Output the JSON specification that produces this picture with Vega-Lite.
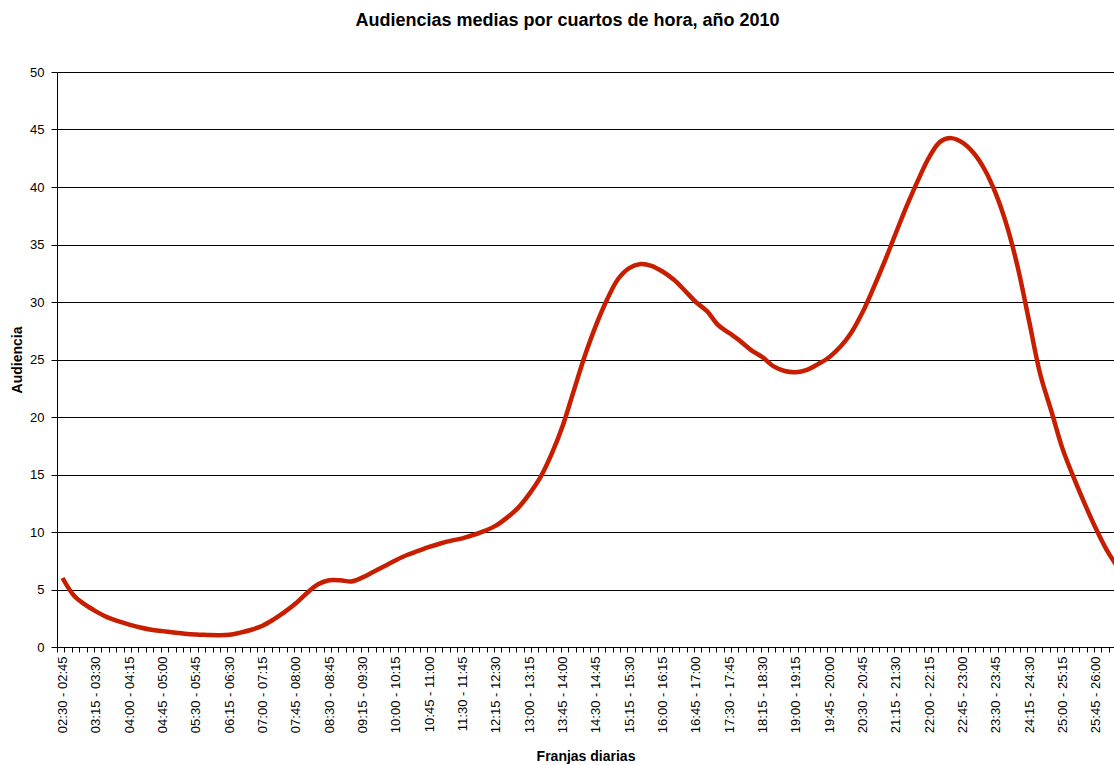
{
  "$schema": "https://vega.github.io/schema/vega-lite/v6.json",
  "width": 1057,
  "height": 575,
  "autosize": {"type": "none"},
  "padding": {"left": 57, "top": 72, "right": 0, "bottom": 118},
  "background": "white",
  "config": {"view": {"stroke": null}, "font": "Liberation Sans"},
  "title": {
    "text": "Audiencias medias por cuartos de hora, año 2010",
    "font": "Liberation Sans",
    "fontSize": 18,
    "fontWeight": "bold",
    "color": "#000000",
    "anchor": "middle",
    "dx": -18,
    "offset": 36
  },
  "data": {
    "values": [
      {"franja": "02:30 - 02:45", "t": 7.5, "audiencia": 6.0},
      {"franja": "02:45 - 03:00", "t": 22.5, "audiencia": 4.5},
      {"franja": "03:00 - 03:15", "t": 37.5, "audiencia": 3.7},
      {"franja": "03:15 - 03:30", "t": 52.5, "audiencia": 3.1},
      {"franja": "03:30 - 03:45", "t": 67.5, "audiencia": 2.6},
      {"franja": "03:45 - 04:00", "t": 82.5, "audiencia": 2.25},
      {"franja": "04:00 - 04:15", "t": 97.5, "audiencia": 1.95},
      {"franja": "04:15 - 04:30", "t": 112.5, "audiencia": 1.7},
      {"franja": "04:30 - 04:45", "t": 127.5, "audiencia": 1.5},
      {"franja": "04:45 - 05:00", "t": 142.5, "audiencia": 1.38},
      {"franja": "05:00 - 05:15", "t": 157.5, "audiencia": 1.26},
      {"franja": "05:15 - 05:30", "t": 172.5, "audiencia": 1.15},
      {"franja": "05:30 - 05:45", "t": 187.5, "audiencia": 1.08},
      {"franja": "05:45 - 06:00", "t": 202.5, "audiencia": 1.05},
      {"franja": "06:00 - 06:15", "t": 217.5, "audiencia": 1.03},
      {"franja": "06:15 - 06:30", "t": 232.5, "audiencia": 1.06},
      {"franja": "06:30 - 06:45", "t": 247.5, "audiencia": 1.25},
      {"franja": "06:45 - 07:00", "t": 262.5, "audiencia": 1.5},
      {"franja": "07:00 - 07:15", "t": 277.5, "audiencia": 1.85},
      {"franja": "07:15 - 07:30", "t": 292.5, "audiencia": 2.4},
      {"franja": "07:30 - 07:45", "t": 307.5, "audiencia": 3.05},
      {"franja": "07:45 - 08:00", "t": 322.5, "audiencia": 3.8},
      {"franja": "08:00 - 08:15", "t": 337.5, "audiencia": 4.7},
      {"franja": "08:15 - 08:30", "t": 352.5, "audiencia": 5.45},
      {"franja": "08:30 - 08:45", "t": 367.5, "audiencia": 5.8},
      {"franja": "08:45 - 09:00", "t": 382.5, "audiencia": 5.8},
      {"franja": "09:00 - 09:15", "t": 397.5, "audiencia": 5.7},
      {"franja": "09:15 - 09:30", "t": 412.5, "audiencia": 6.05},
      {"franja": "09:30 - 09:45", "t": 427.5, "audiencia": 6.55},
      {"franja": "09:45 - 10:00", "t": 442.5, "audiencia": 7.05},
      {"franja": "10:00 - 10:15", "t": 457.5, "audiencia": 7.55},
      {"franja": "10:15 - 10:30", "t": 472.5, "audiencia": 8.0},
      {"franja": "10:30 - 10:45", "t": 487.5, "audiencia": 8.35},
      {"franja": "10:45 - 11:00", "t": 502.5, "audiencia": 8.7},
      {"franja": "11:00 - 11:15", "t": 517.5, "audiencia": 9.0},
      {"franja": "11:15 - 11:30", "t": 532.5, "audiencia": 9.25},
      {"franja": "11:30 - 11:45", "t": 547.5, "audiencia": 9.45},
      {"franja": "11:45 - 12:00", "t": 562.5, "audiencia": 9.75},
      {"franja": "12:00 - 12:15", "t": 577.5, "audiencia": 10.1},
      {"franja": "12:15 - 12:30", "t": 592.5, "audiencia": 10.55},
      {"franja": "12:30 - 12:45", "t": 607.5, "audiencia": 11.25},
      {"franja": "12:45 - 13:00", "t": 622.5, "audiencia": 12.1},
      {"franja": "13:00 - 13:15", "t": 637.5, "audiencia": 13.3},
      {"franja": "13:15 - 13:30", "t": 652.5, "audiencia": 14.75},
      {"franja": "13:30 - 13:45", "t": 667.5, "audiencia": 16.75},
      {"franja": "13:45 - 14:00", "t": 682.5, "audiencia": 19.2},
      {"franja": "14:00 - 14:15", "t": 697.5, "audiencia": 22.25},
      {"franja": "14:15 - 14:30", "t": 712.5, "audiencia": 25.3},
      {"franja": "14:30 - 14:45", "t": 727.5, "audiencia": 27.95},
      {"franja": "14:45 - 15:00", "t": 742.5, "audiencia": 30.2},
      {"franja": "15:00 - 15:15", "t": 757.5, "audiencia": 32.0},
      {"franja": "15:15 - 15:30", "t": 772.5, "audiencia": 32.95},
      {"franja": "15:30 - 15:45", "t": 787.5, "audiencia": 33.3},
      {"franja": "15:45 - 16:00", "t": 802.5, "audiencia": 33.15},
      {"franja": "16:00 - 16:15", "t": 817.5, "audiencia": 32.65},
      {"franja": "16:15 - 16:30", "t": 832.5, "audiencia": 31.95},
      {"franja": "16:30 - 16:45", "t": 847.5, "audiencia": 31.0},
      {"franja": "16:45 - 17:00", "t": 862.5, "audiencia": 30.0},
      {"franja": "17:00 - 17:15", "t": 877.5, "audiencia": 29.2},
      {"franja": "17:15 - 17:30", "t": 892.5, "audiencia": 28.0},
      {"franja": "17:30 - 17:45", "t": 907.5, "audiencia": 27.3},
      {"franja": "17:45 - 18:00", "t": 922.5, "audiencia": 26.6},
      {"franja": "18:00 - 18:15", "t": 937.5, "audiencia": 25.8},
      {"franja": "18:15 - 18:30", "t": 952.5, "audiencia": 25.2},
      {"franja": "18:30 - 18:45", "t": 967.5, "audiencia": 24.4},
      {"franja": "18:45 - 19:00", "t": 982.5, "audiencia": 24.0},
      {"franja": "19:00 - 19:15", "t": 997.5, "audiencia": 23.9},
      {"franja": "19:15 - 19:30", "t": 1012.5, "audiencia": 24.1},
      {"franja": "19:30 - 19:45", "t": 1027.5, "audiencia": 24.6},
      {"franja": "19:45 - 20:00", "t": 1042.5, "audiencia": 25.2},
      {"franja": "20:00 - 20:15", "t": 1057.5, "audiencia": 26.1},
      {"franja": "20:15 - 20:30", "t": 1072.5, "audiencia": 27.35},
      {"franja": "20:30 - 20:45", "t": 1087.5, "audiencia": 29.1},
      {"franja": "20:45 - 21:00", "t": 1102.5, "audiencia": 31.25},
      {"franja": "21:00 - 21:15", "t": 1117.5, "audiencia": 33.55},
      {"franja": "21:15 - 21:30", "t": 1132.5, "audiencia": 36.0},
      {"franja": "21:30 - 21:45", "t": 1147.5, "audiencia": 38.4},
      {"franja": "21:45 - 22:00", "t": 1162.5, "audiencia": 40.6},
      {"franja": "22:00 - 22:15", "t": 1177.5, "audiencia": 42.6},
      {"franja": "22:15 - 22:30", "t": 1192.5, "audiencia": 43.95},
      {"franja": "22:30 - 22:45", "t": 1207.5, "audiencia": 44.25},
      {"franja": "22:45 - 23:00", "t": 1222.5, "audiencia": 43.85},
      {"franja": "23:00 - 23:15", "t": 1237.5, "audiencia": 42.95},
      {"franja": "23:15 - 23:30", "t": 1252.5, "audiencia": 41.5},
      {"franja": "23:30 - 23:45", "t": 1267.5, "audiencia": 39.4},
      {"franja": "23:45 - 24:00", "t": 1282.5, "audiencia": 36.6},
      {"franja": "24:00 - 24:15", "t": 1297.5, "audiencia": 32.9},
      {"franja": "24:15 - 24:30", "t": 1312.5, "audiencia": 28.3},
      {"franja": "24:30 - 24:45", "t": 1327.5, "audiencia": 23.7},
      {"franja": "24:45 - 25:00", "t": 1342.5, "audiencia": 20.5},
      {"franja": "25:00 - 25:15", "t": 1357.5, "audiencia": 17.25},
      {"franja": "25:15 - 25:30", "t": 1372.5, "audiencia": 14.75},
      {"franja": "25:30 - 25:45", "t": 1387.5, "audiencia": 12.45},
      {"franja": "25:45 - 26:00", "t": 1402.5, "audiencia": 10.3},
      {"franja": "26:00 - 26:15", "t": 1417.5, "audiencia": 8.4},
      {"franja": "26:15 - 26:30", "t": 1432.5, "audiencia": 6.9}
    ]
  },
  "layer": [
    {
      "mark": {"type": "line", "color": "#C81E00", "strokeWidth": 4.5, "interpolate": "catmull-rom", "clip": true},
      "encoding": {
        "x": {
          "field": "t",
          "type": "quantitative",
          "scale": {"domain": [0, 1427], "nice": false, "zero": false},
          "axis": {
            "orient": "bottom",
            "values": [0,10,20,30,40,50,60,70,80,90,100,110,120,130,140,150,160,170,180,190,200,210,220,230,240,250,260,270,280,290,300,310,320,330,340,350,360,370,380,390,400,410,420,430,440,450,460,470,480,490,500,510,520,530,540,550,560,570,580,590,600,610,620,630,640,650,660,670,680,690,700,710,720,730,740,750,760,770,780,790,800,810,820,830,840,850,860,870,880,890,900,910,920,930,940,950,960,970,980,990,1000,1010,1020,1030,1040,1050,1060,1070,1080,1090,1100,1110,1120,1130,1140,1150,1160,1170,1180,1190,1200,1210,1220,1230,1240,1250,1260,1270,1280,1290,1300,1310,1320,1330,1340,1350,1360,1370,1380,1390,1400,1410,1420],
            "labels": false,
            "grid": false,
            "domain": true,
            "domainColor": "#000000",
            "domainWidth": 1,
            "ticks": true,
            "tickColor": "#000000",
            "tickWidth": 1,
            "tickSize": 5,
            "title": null
          }
        },
        "y": {
          "field": "audiencia",
          "type": "quantitative",
          "scale": {"domain": [0, 50], "nice": false, "zero": true},
          "axis": {
            "values": [0,5,10,15,20,25,30,35,40,45,50],
            "grid": true,
            "gridColor": "#000000",
            "gridWidth": 1,
            "domainColor": "#000000",
            "domainWidth": 1,
            "tickColor": "#000000",
            "tickSize": 6,
            "labelPadding": 7,
            "labelFont": "Liberation Sans",
            "labelFontSize": 13,
            "labelColor": "#000000",
            "title": "Audiencia",
            "titleFont": "Liberation Sans",
            "titleFontSize": 14,
            "titleFontWeight": "bold",
            "titleColor": "#000000",
            "titlePadding": 5
          }
        }
      }
    },
    {
      "mark": {"type": "line", "opacity": 0, "clip": true},
      "encoding": {
        "x": {
          "field": "t",
          "type": "quantitative",
          "axis": {
            "orient": "bottom",
            "values": [7.5,52.5,97.5,142.5,187.5,232.5,277.5,322.5,367.5,412.5,457.5,502.5,547.5,592.5,637.5,682.5,727.5,772.5,817.5,862.5,907.5,952.5,997.5,1042.5,1087.5,1132.5,1177.5,1222.5,1267.5,1312.5,1357.5,1402.5],
            "labelExpr": "pad(toString(floor((datum.value+142.5)/60)),2,'0','left') + ':' + pad(toString((datum.value+142.5)%60),2,'0','left') + ' - ' + pad(toString(floor((datum.value+157.5)/60)),2,'0','left') + ':' + pad(toString((datum.value+157.5)%60),2,'0','left')",
            "labelAngle": -90,
            "labelFont": "Liberation Sans",
            "labelFontSize": 13,
            "labelColor": "#000000",
            "labelPadding": 9,
            "labelOverlap": false,
            "labelFlush": false,
            "labelBound": false,
            "ticks": false,
            "tickSize": 0,
            "domain": false,
            "grid": false,
            "title": "Franjas diarias",
            "titleFont": "Liberation Sans",
            "titleFontSize": 14,
            "titleFontWeight": "bold",
            "titleColor": "#000000",
            "titlePadding": 17
          }
        },
        "y": {"field": "audiencia", "type": "quantitative"}
      }
    }
  ],
  "resolve": {"axis": {"x": "independent"}}
}
